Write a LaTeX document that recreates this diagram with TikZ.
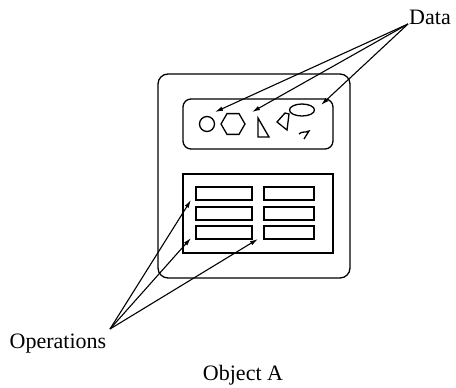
\documentclass[tikz,border=0pt]{standalone}
\usepackage{fontspec}
\setmainfont{Liberation Serif}
\usetikzlibrary{arrows.meta}

\begin{document}
\begin{tikzpicture}[x=1pt, y=-1pt, line width=1.3pt,
        lbl/.style={font=\fontsize{22}{26}\selectfont, inner sep=0pt},
        pointer/.style={-{Latex[length=8pt, width=4.5pt]}, line width=1.1pt}]
            \useasboundingbox (0,0) rectangle (456,388);

            \draw[rounded corners=10pt] (158,74) rectangle (350,278);
            \draw[rounded corners=8pt] (183,99) rectangle (333,149);
            \draw (183,174) rectangle (333,253);

            \foreach \y in {187,207,226}{
                \draw (196,\y) rectangle + (56,13);
                \draw (264,\y) rectangle + (50,13);
            }

            \draw (207,124) circle (7.5);
            \draw (233,124) +(0:12) -- +(60:12) -- +(120:12) -- +(180:12) -- +(240:12) -- +(300:12) -- cycle;
            \draw (258,118) -- (258,137) -- (269,137) -- cycle;
            \draw (277,122) -- (285,113) -- (289,114) -- (287,130) -- cycle;
            \draw (302,110) ellipse (12.5 and 6);
            \draw (299,134) .. controls (302,131) and (305,133) .. (309,131) -- (304,139);

            \node[lbl] (data) at (430,17) {Data};
            \node[lbl] (ops) at (58,344) {Operations};
            \node[lbl] (obj) at (243,375) {Object A};

            \coordinate (dsrc) at (408,24);
            \coordinate (osrc) at (110,329);
            \coordinate (circ) at (215,112);
            \coordinate (hex) at (252,112);
            \coordinate (ell) at (321,105);
            \coordinate (opa) at (191,200);
            \coordinate (opb) at (191,238);
            \coordinate (opc) at (258,239);

            \foreach \t in {circ,hex,ell}{
                \draw[pointer] (dsrc) -- (\t);
            }
            \foreach \t in {opa,opb,opc}{
                \draw[pointer] (osrc) -- (\t);
            }
        \end{tikzpicture}
\end{document}
